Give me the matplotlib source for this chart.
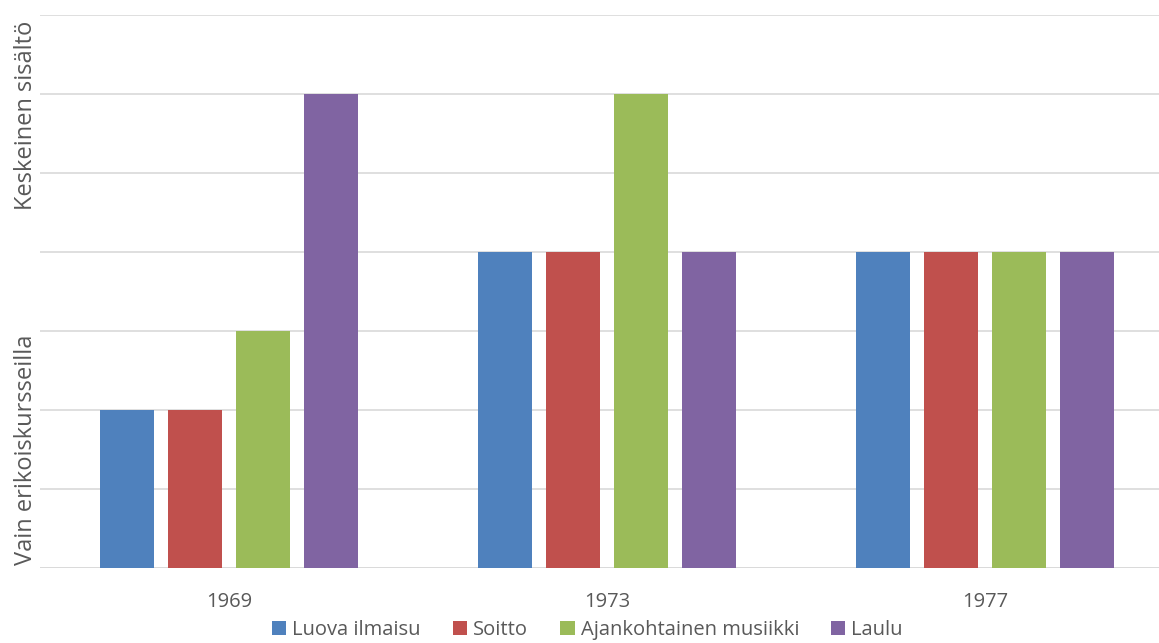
import matplotlib.pyplot as plt
import numpy as np

years = ["1969", "1973", "1977"]
series = ["Luova ilmaisu", "Soitto", "Ajankohtainen musiikki", "Laulu"]
values = {
    "Luova ilmaisu": [2, 4, 4],
    "Soitto": [2, 4, 4],
    "Ajankohtainen musiikki": [3, 6, 4],
    "Laulu": [6, 4, 4],
}
colors = ["#4F81BD", "#C0504D", "#9BBB59", "#8064A2"]
ytick_pos = [1.5, 5.73]
ytick_labels = ["Vain erikoiskursseilla", "Keskeinen sisältö"]

plt.rcParams['font.family'] = ['Open Sans', 'DejaVu Sans']

fig = plt.figure(figsize=(11.59, 6.43), dpi=100)
ax = fig.add_axes([40 / 1159, 1 - 568 / 643, 1134 / 1159, 553 / 643])

x = np.arange(len(years))
width = 0.143
step = 0.18
for i, name in enumerate(series):
    ax.bar(x + (i - 1.5) * step, values[name], width, color=colors[i], label=name, zorder=3)

ax.set_xlim(-0.5, 2.5)
ax.set_ylim(0, 7)
ax.set_yticks(range(0, 8), minor=True)
ax.grid(axis='y', which='minor', color='#D9D9D9', linewidth=1.2, zorder=0)
ax.set_yticks(ytick_pos)
ax.set_yticklabels(ytick_labels, rotation=90, va='center', fontsize=17, color='#595959')
ax.set_xticks(x)
ax.set_xticklabels(years, fontsize=14.5, color='#595959')
ax.tick_params(axis='both', which='both', length=0)
ax.tick_params(axis='y', pad=1.5)
ax.tick_params(axis='x', pad=17)
for s in ax.spines.values():
    s.set_visible(False)
ax.axhline(0, color='#D9D9D9', linewidth=1.2, zorder=2)

fig.legend(loc='lower center', bbox_to_anchor=(0.507, -0.024), ncol=4, frameon=False,
           fontsize=14.5, handlelength=0.7, handleheight=0.7, handletextpad=0.3,
           columnspacing=1.6, labelcolor='#595959')

fig.savefig("out.png", dpi=100)
